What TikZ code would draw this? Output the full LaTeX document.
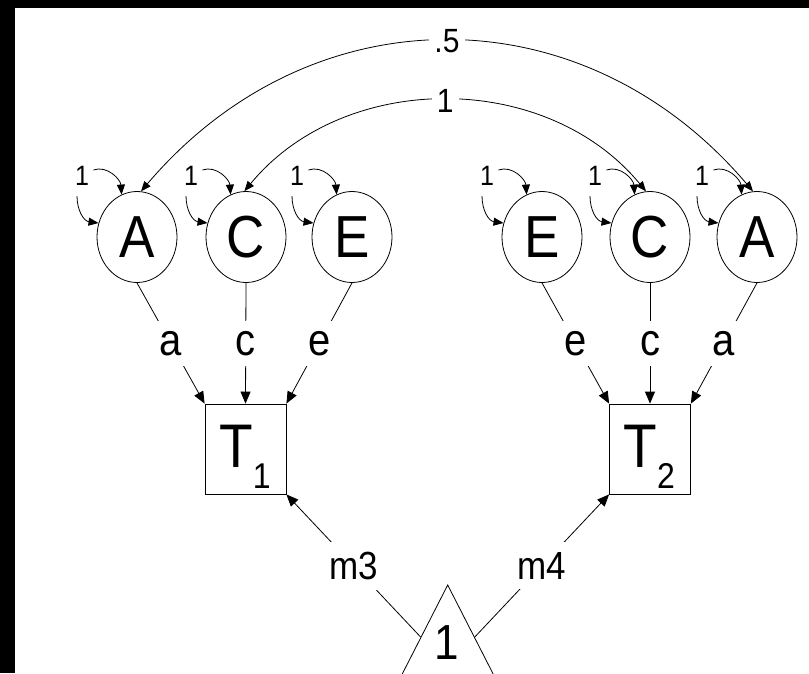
\documentclass[tikz,border=0pt]{standalone}
\usepackage{fontspec}
\setmainfont{Liberation Sans}
\usepackage{graphicx}
\usetikzlibrary{arrows.meta,shapes.geometric}

% all lettering is set slightly taller than wide
\newcommand\tallify[1]{\scalebox{1}[1.12]{#1}}
\newcommand\setfs[1]{\fontsize{#1}{#1}\selectfont}

% variance loop: label "1" up left of a latent node, two curved arrows into it
\newcommand\varloop[3]{%
  \node[varlab] (#1v) at (#2,#3) {\tallify{1}};
  \draw[smalltip] ([shift={(3,-6)}]#1v.east) .. controls +(14,-5) and +(-1,-15) .. (#1.110);
  \draw[smalltip] ([shift={(-5,9)}]#1v.south) .. controls +(0,14) and +(-15,-2) .. (#1.160);
}

\begin{document}
\begin{tikzpicture}[x=1pt,y=-1pt,
  line width=0.8pt,
  latent/.style={draw, ellipse, minimum width=80pt, minimum height=91pt, inner sep=0pt, font=\setfs{53}},
  observed/.style={draw, rectangle, minimum width=81pt, minimum height=90pt, inner sep=0pt},
  obstext/.style={anchor=base west, inner sep=0pt, font=\setfs{55}},
  pathlab/.style={fill=white, inner xsep=5pt, inner ysep=10pt, font=\setfs{40}},
  covlab/.style={fill=white, inner xsep=5pt, inner ysep=2pt, font=\setfs{30}},
  meanlab/.style={fill=white, inner xsep=5pt, inner ysep=10pt, font=\setfs{35}},
  varlab/.style={inner sep=1pt, font=\setfs{25}},
  bigtip/.style={-{Triangle[length=12pt,width=10pt]}},
  smalltip/.style={-{Triangle[length=10pt,width=8pt]}},
  covtip/.style={{Triangle[length=10pt,width=8pt]}-{Triangle[length=10pt,width=8pt]}},
]
\useasboundingbox (0,0) rectangle (809,673);
\clip (0,0) rectangle (809,673);

% dark frame strips along the left and top edges
\fill[black] (0,0) rectangle (15,673);
\fill[black] (0,0) rectangle (809,8);

% latent variables, twin 1
\node[latent] (A1) at (137,237) {\tallify{A}};
\node[latent] (C1) at (246,237) {\tallify{C}};
\node[latent] (E1) at (352,237) {\tallify{E}};
% latent variables, twin 2
\node[latent] (E2) at (542,237) {\tallify{E}};
\node[latent] (C2) at (650,237) {\tallify{C}};
\node[latent] (A2) at (757,237) {\tallify{A}};

% observed traits
\node[observed] (T1) at (245.5,449) {};
\node[observed] (T2) at (650,449) {};
\node[obstext] (T1t) at (219,467) {\tallify{T\raisebox{-19pt}{\setfs{32}1}}};
\node[obstext] (T2t) at (623,467) {\tallify{T\raisebox{-19pt}{\setfs{32}2}}};

% constant (mean) triangle, running off the bottom edge
\coordinate (apex) at (447.7,585);
\coordinate (tL) at (420.6,637);
\coordinate (tR) at (474.8,637);
\draw (391.5,695) -- (apex) -- (503.9,695);
\node[font=\setfs{44}, inner sep=0pt] (one) at (447,643) {\tallify{1}};

% variances
\varloop{A1}{82}{176}
\varloop{C1}{191}{176}
\varloop{E1}{297}{176}
\varloop{E2}{487}{176}
\varloop{C2}{595}{176}
\varloop{A2}{702}{176}

% covariances between twins
\draw[covtip] (A1.85) .. controls +(170,-200) and +(-170,-200) .. (A2.95)
  node[covlab, pos=0.5] (cA) {\tallify{.5}};
\draw[covtip] (C1.92) .. controls +(100,-121) and +(-100,-121) .. (C2.95)
  node[covlab, pos=0.5] (cC) {\tallify{1}};

% paths
\draw[bigtip] (A1.south) -- node[pathlab] (pa1) {\tallify{a}} (T1.north west);
\draw[bigtip] (C1.south) -- node[pathlab] (pc1) {\tallify{c}} (T1.north);
\draw[bigtip] (E1.south) -- node[pathlab] (pe1) {\tallify{e}} (T1.north east);
\draw[bigtip] (E2.south) -- node[pathlab] (pe2) {\tallify{e}} (T2.north west);
\draw[bigtip] (C2.south) -- node[pathlab] (pc2) {\tallify{c}} (T2.north);
\draw[bigtip] (A2.south) -- node[pathlab] (pa2) {\tallify{a}} (T2.north east);

% means
\draw[bigtip] (tL) -- node[meanlab] (m3) {\tallify{m3}} (T1.south east);
\draw[bigtip] (tR) -- node[meanlab] (m4) {\tallify{m4}} (T2.south west);
\end{tikzpicture}
\end{document}
